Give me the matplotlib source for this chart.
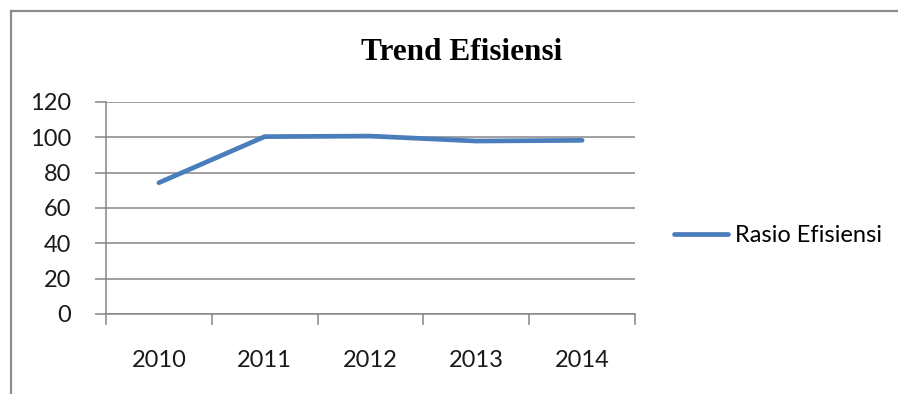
import matplotlib.pyplot as plt
from matplotlib.lines import Line2D

# data
years = ['2010', '2011', '2012', '2013', '2014']
rasio = [74.3, 100.4, 100.7, 97.9, 98.3]
y_ticks = [0, 20, 40, 60, 80, 100, 120]

W, H = 898, 394
fig = plt.figure(figsize=(W / 100, H / 100), dpi=100)

# outer chart border (only top and left are visible in the crop)
bx, by = 11 / W, 1 - 11 / H
fig.lines.append(Line2D([bx, 1.05], [by, by], transform=fig.transFigure,
                        color='#8c8c8c', linewidth=1.6))
fig.lines.append(Line2D([bx, bx], [-0.05, by], transform=fig.transFigure,
                        color='#8c8c8c', linewidth=1.6))

ax = fig.add_axes([106 / W, 1 - 314 / H, (635 - 106) / W, (314 - 102) / H])

x = list(range(len(years)))
ax.plot(x, rasio, color='#4a7ebb', linewidth=3.4, solid_capstyle='round',
        solid_joinstyle='round', label='Rasio Efisiensi', zorder=3)

ax.set_xlim(-0.5, len(years) - 0.5)
ax.set_ylim(0, 120)
ax.set_yticks(y_ticks)
ax.yaxis.grid(True, color='#868686', linewidth=1.1)

# category boundaries as ticks, labels centred between them
ax.set_xticks([i - 0.5 for i in range(len(years) + 1)])
ax.set_xticklabels([])
ax.set_xticks(x, minor=True)
ax.set_xticklabels(years, minor=True)
ax.tick_params(axis='x', which='major', length=8, width=1.1, color='#868686', direction='out')
ax.tick_params(axis='x', which='minor', length=0, pad=26)
ax.tick_params(axis='y', length=8, width=1.1, color='#868686', pad=17)

for lab in ax.get_xticklabels(minor=True) + ax.get_yticklabels():
    lab.set_fontfamily('Lato')
    lab.set_fontsize(17)
    lab.set_color('#1a1a1a')

for s in ['top', 'right']:
    ax.spines[s].set_visible(False)
for s in ['left', 'bottom']:
    ax.spines[s].set_color('#868686')
    ax.spines[s].set_linewidth(1.1)

fig.text(462 / W, 1 - 52 / H, 'Trend Efisiensi', ha='center', va='center',
         fontfamily='Liberation Serif', fontweight='bold', fontsize=22.5)

fig.legend(loc='center left', bbox_to_anchor=(674 / W, 1 - 236 / H),
           frameon=False, borderpad=0, borderaxespad=0, handlelength=2.3,
           handletextpad=0.28, prop={'family': 'Lato', 'size': 17})

fig.savefig('out.png', dpi=100)
